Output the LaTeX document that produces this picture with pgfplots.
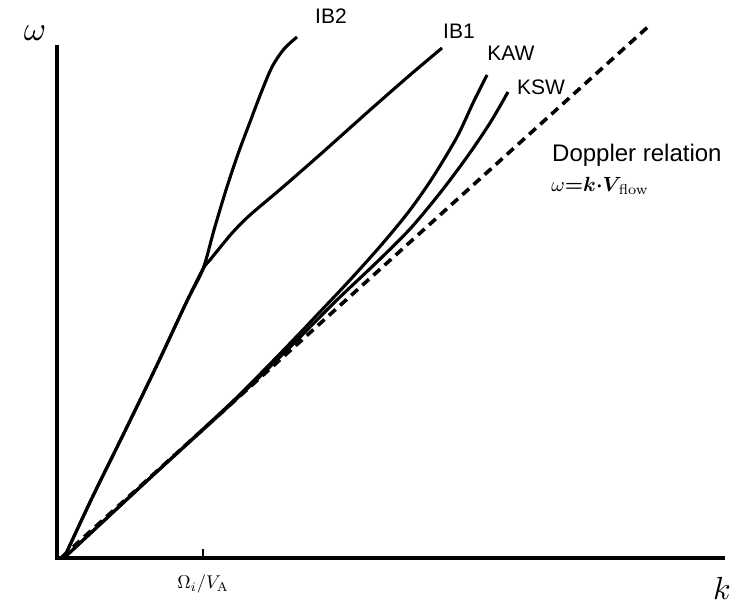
\documentclass[border=0pt]{standalone}
\usepackage{amsmath}
\usepackage[no-math]{fontspec}
\setmainfont{Liberation Sans}
\usepackage{pgfplots}
\pgfplotsset{compat=1.18}
\begin{document}
\begin{tikzpicture}
\useasboundingbox (-57pt,-49pt) rectangle (682pt,558pt);
\begin{axis}[
  at={(0pt,0pt)}, anchor=origin,
  x=1pt, y=1pt,
  xmin=0, xmax=666, ymin=0, ymax=511,
  axis lines=left,
  axis line style={line width=3.3pt, -, line cap=rect},
  clip=false,
  xtick={146}, xticklabels={$\Omega_i/V_{\mathrm{A}}$},
  ytick=\empty,
  tick align=inside, major tick length=9pt,
  tick style={line width=1.6pt, black},
  xticklabel style={anchor=center, yshift=-26pt, scale=1.85},
]
% common lower branch + IB2
\addplot[black, line width=3.1pt, smooth, tension=0.5] coordinates {
  (7,0) (35,60) (68,127) (100,193) (130,257) (146,289)
  (157,328) (169,368) (181,404) (193,436) (204,465) (215,491) (227,509) (240,521)};
% IB1
\addplot[black, line width=3.1pt, smooth, tension=0.5] coordinates {
  (7,0) (35,60) (68,127) (100,193) (130,257) (146,289)
  (153,298) (161,308) (176,326) (193,343) (226,371) (266,406) (313,448) (353,483) (385,510)};
% KAW
\addplot[black, line width=3.1pt, smooth, tension=0.5] coordinates {
  (8,1) (93,80) (173,154) (213,194) (243,225) (260,243) (293,278) (326,315)
  (353,348) (376,381) (400,421) (416,455) (430,483)};
% KSW
\addplot[black, line width=3.1pt, smooth, tension=0.5] coordinates {
  (8,1) (93,80) (173,153) (223,201) (256,234) (283,261) (320,296) (353,329)
  (383,365) (410,401) (433,435) (451,466)};
% Doppler relation
\addplot[black, line width=3.6pt, dash pattern=on 9pt off 6pt] coordinates {
  (5,1) (593,533)};

\node[font=\fontsize{21}{25}\selectfont] at (axis cs:274,542) {IB2};
\node[font=\fontsize{21}{25}\selectfont] at (axis cs:402,527) {IB1};
\node[font=\fontsize{21}{25}\selectfont] at (axis cs:454,505) {KAW};
\node[font=\fontsize{21}{25}\selectfont] at (axis cs:484,471) {KSW};
\node[font=\fontsize{24}{28}\selectfont, anchor=west, inner sep=0pt] at (axis cs:495,403) {Doppler relation};
\node[scale=2.05, anchor=west, inner sep=0pt] at (axis cs:494,372)
  {$\omega\mathord{\boldsymbol{=}}\boldsymbol{k}\mathord{\boldsymbol{\cdot}}\boldsymbol{V}_{\!\mathrm{flow}}$};
\node[scale=3.4] at (axis cs:-22,525) {$\omega$};
\node[scale=3.2] at (axis cs:665,-30) {$k$};
\end{axis}
\end{tikzpicture}
\end{document}
